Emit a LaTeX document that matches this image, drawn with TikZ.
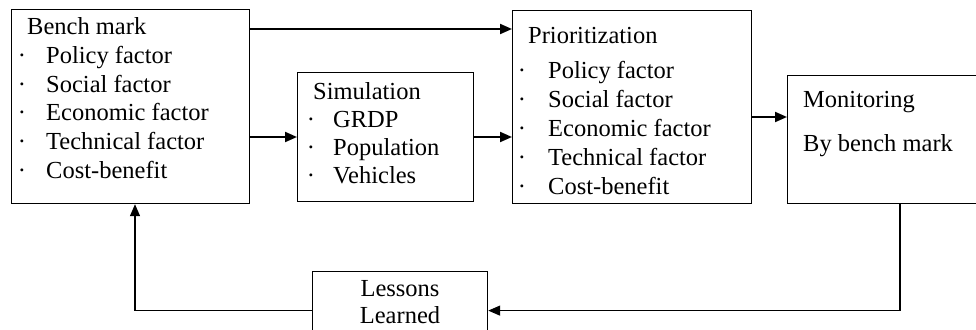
\documentclass[tikz,border=0pt]{standalone}
\usepackage{fontspec}
\setmainfont{Liberation Serif}
\usetikzlibrary{arrows.meta}
\begin{document}
\begin{tikzpicture}[x=1pt,y=-1pt,
  box/.style={draw,line width=1.2pt,anchor=north west,inner sep=0pt},
  txt/.style={anchor=base west,inner sep=0pt,font=\fontsize{24.5}{28}\selectfont},
  ctxt/.style={anchor=base,inner sep=0pt,font=\fontsize{24.5}{28}\selectfont},
  dotm/.style={anchor=base,inner sep=0pt,font=\fontsize{24.5}{28}\selectfont},
  arr/.style={line width=2pt,-{Triangle[length=12pt,width=10pt]}},
  fb/.style={line width=1.3pt,-{Triangle[length=12pt,width=10pt]}}]
\useasboundingbox (0,0) rectangle (976,329);

% boxes
\node[box,minimum width=238pt,minimum height=194pt] (bench) at (11,9) {};
\node[box,minimum width=176pt,minimum height=129pt] (sim) at (297,72) {};
\node[box,minimum width=239pt,minimum height=193pt] (prio) at (512,10) {};
\node[box,minimum width=200pt,minimum height=128pt] (mon) at (787,75) {};
\node[box,minimum width=175pt,minimum height=78pt] (lessons) at (312,271) {};

% benchmark list
\node[txt] (bt) at (27,35) {Bench mark};
\foreach \t [count=\i] in {Policy factor,Social factor,Economic factor,Technical factor,Cost-benefit}{
  \node[dotm] (bd\i) at (22,35+28.6*\i) {·};
  \node[txt] (bi\i) at (46,35+28.6*\i) {\t};
}

% simulation list
\node[txt] (st) at (313,99) {Simulation};
\foreach \t [count=\i] in {GRDP,Population,Vehicles}{
  \node[dotm] (sd\i) at (311,99+28*\i) {·};
  \node[txt] (si\i) at (333,99+28*\i) {\t};
}

% prioritization list
\node[txt] (pt) at (528,44) {Prioritization};
\foreach \t [count=\i] in {Policy factor,Social factor,Economic factor,Technical factor,Cost-benefit}{
  \node[dotm] (pd\i) at (522,50+28.8*\i) {·};
  \node[txt] (pi\i) at (548,50+28.8*\i) {\t};
}

% monitoring
\node[txt] (mt) at (803,107) {Monitoring};
\node[txt] (mb) at (803,151) {By bench mark};

% lessons learned
\node[ctxt] (l1) at (400,296) {Lessons};
\node[ctxt] (l2) at (400,323) {Learned};

% connectors
\coordinate (ytop) at (0,29);
\coordinate (ymid) at (0,137);
\coordinate (ymon) at (0,117);
\coordinate (xdrop) at (900,0);
\coordinate (xup) at (135,0);
\draw[arr] (bench.east |- ytop) -- (prio.west |- ytop);
\draw[arr] (bench.east |- ymid) -- (sim.west |- ymid);
\draw[arr] (sim.east |- ymid) -- (prio.west |- ymid);
\draw[arr] (prio.east |- ymon) -- (mon.west |- ymon);
\draw[fb] (xdrop |- mon.south) |- (lessons.east);
\draw[fb] (lessons.west) -| (xup |- bench.south);
\end{tikzpicture}
\end{document}
